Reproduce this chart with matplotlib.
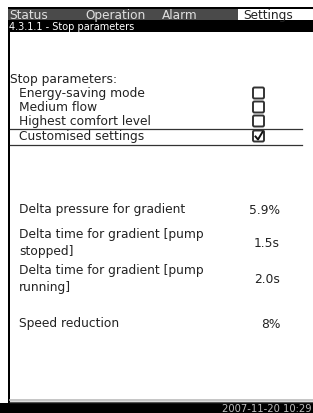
import matplotlib
matplotlib.use("Agg")
import matplotlib.pyplot as plt
from matplotlib.patches import FancyBboxPatch, Rectangle

W, H = 313, 414
tabs = ["Status", "Operation", "Alarm", "Settings"]
tab_x = [9, 85, 162, 243]
active_tab = "Settings"
breadcrumb = "4.3.1.1 - Stop parameters"
section_title = "Stop parameters:"
options = ["Energy-saving mode", "Medium flow", "Highest comfort level", "Customised settings"]
option_checked = [False, False, False, True]
param_labels = ["Delta pressure for gradient",
                "Delta time for gradient [pump\nstopped]",
                "Delta time for gradient [pump\nrunning]",
                "Speed reduction"]
param_values = ["5.9%", "1.5s", "2.0s", "8%"]
param_y = [210, 243, 279, 324]
timestamp = "2007-11-20 10:29"

plt.rcParams['font.family'] = ['DejaVu Sans']
fig = plt.figure(figsize=(W / 100, H / 100), dpi=100)
ax = fig.add_axes([0, 0, 1, 1])
ax.set_xlim(0, W)
ax.set_ylim(H, 0)
ax.axis("off")

fs = 8.8
# header
ax.add_patch(Rectangle((8, 9), W - 8, 12, facecolor="#4a4a4a", edgecolor="none"))
ax.add_patch(Rectangle((238, 9), W - 238, 12, facecolor="white", edgecolor="none"))
ax.add_patch(Rectangle((8, 8), W - 8, 1.5, facecolor="black", edgecolor="none"))
for t, x in zip(tabs, tab_x):
    ax.text(x, 15.5, t, color="#222222" if t == active_tab else "#e0e0e0",
            fontsize=8.7, va="center", ha="left")
ax.add_patch(Rectangle((8, 21), W - 8, 12, facecolor="black", edgecolor="none"))
ax.text(9, 27.5, breadcrumb, color="white", fontsize=7.0, va="center", ha="left")

# left border
ax.add_patch(Rectangle((8, 21), 2, 383, facecolor="black", edgecolor="none"))

# options
ax.text(10, 79, section_title, fontsize=fs, va="center", ha="left", color="#222222")
opt_y = [94, 108, 122, 137]
for lab, chk, y in zip(options, option_checked, opt_y):
    ax.text(19, y, lab, fontsize=fs, va="center", ha="left", color="#222222")
    ax.add_patch(FancyBboxPatch((253, y - 5.5), 11, 11, boxstyle="round,pad=0,rounding_size=1.5",
                                facecolor="white", edgecolor="#333333", linewidth=1.4))
    if chk:
        ax.plot([255.5, 258, 262.5], [y + 0.5, y + 3.5, y - 4], color="#111111", linewidth=1.4)
ax.plot([10, 302], [129.5, 129.5], color="#333333", linewidth=0.9)
ax.plot([10, 302], [145.5, 145.5], color="#333333", linewidth=0.9)

# parameters
for lab, val, y in zip(param_labels, param_values, param_y):
    ax.text(19, y, lab, fontsize=fs, va="center", ha="left", color="#222222", linespacing=1.45)
    ax.text(280, y + 1, val, fontsize=fs, va="center", ha="right", color="#222222")

# footer
ax.plot([10, W], [401.5, 401.5], color="#bbbbbb", linewidth=1.2)
ax.plot([10, W], [403, 403], color="#555555", linewidth=1)
ax.add_patch(Rectangle((0, 404), W, 10, facecolor="black", edgecolor="none"))
ax.text(312, 409.5, timestamp, color="#bbbbbb", fontsize=7.2, va="center", ha="right")

fig.savefig("out.png", dpi=100)
